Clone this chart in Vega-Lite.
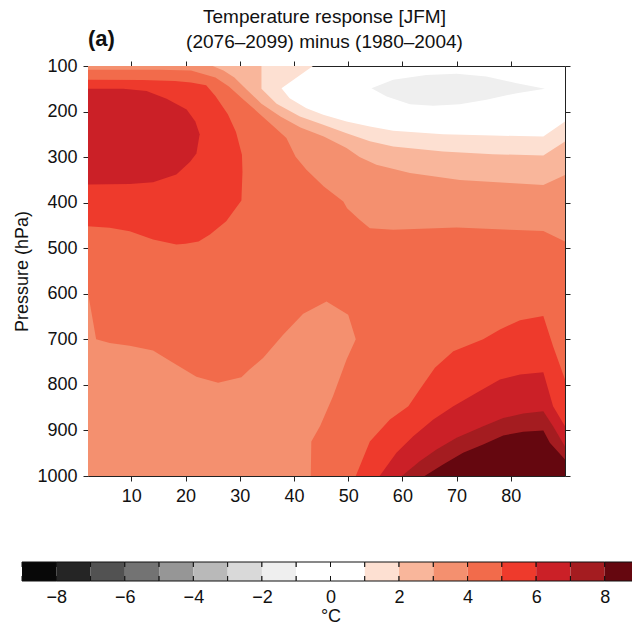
{
  "$schema": "https://vega.github.io/schema/vega-lite/v6.json",
  "padding": {"left": 13, "top": 8, "right": 0, "bottom": 0},
  "title": {"text": ["Temperature response [JFM]", "(2076–2099) minus (1980–2004)"], "anchor": "middle", "fontSize": 19, "fontWeight": "normal", "lineHeight": 25, "offset": -24, "dx": -35},
  "datasets": {
    "bins": [
      {"lvl": -9, "hi": -8}, {"lvl": -8, "hi": -7}, {"lvl": -7, "hi": -6}, {"lvl": -6, "hi": -5},
      {"lvl": -5, "hi": -4}, {"lvl": -4, "hi": -3}, {"lvl": -3, "hi": -2}, {"lvl": -2, "hi": -1},
      {"lvl": -1, "hi": 0}, {"lvl": 0, "hi": 1}, {"lvl": 1, "hi": 2}, {"lvl": 2, "hi": 3},
      {"lvl": 3, "hi": 4}, {"lvl": 4, "hi": 5}, {"lvl": 5, "hi": 6}, {"lvl": 6, "hi": 7},
      {"lvl": 7, "hi": 8}, {"lvl": 8, "hi": 9}
    ],
    "contours": [
      {"poly": "T1", "lvl": 1, "i": 0, "lat": 2, "p": 100},
      {"poly": "T1", "lvl": 1, "i": 1, "lat": 43.5, "p": 100},
      {"poly": "T1", "lvl": 1, "i": 2, "lat": 37.7, "p": 148.7},
      {"poly": "T1", "lvl": 1, "i": 3, "lat": 39.2, "p": 170.6},
      {"poly": "T1", "lvl": 1, "i": 4, "lat": 42.3, "p": 192.6},
      {"poly": "T1", "lvl": 1, "i": 5, "lat": 45.4, "p": 207},
      {"poly": "T1", "lvl": 1, "i": 6, "lat": 49.7, "p": 222},
      {"poly": "T1", "lvl": 1, "i": 7, "lat": 54, "p": 233},
      {"poly": "T1", "lvl": 1, "i": 8, "lat": 58.3, "p": 242},
      {"poly": "T1", "lvl": 1, "i": 9, "lat": 67.5, "p": 250},
      {"poly": "T1", "lvl": 1, "i": 10, "lat": 76.7, "p": 252.6},
      {"poly": "T1", "lvl": 1, "i": 11, "lat": 86, "p": 255},
      {"poly": "T1", "lvl": 1, "i": 12, "lat": 90, "p": 222},
      {"poly": "T1", "lvl": 1, "i": 13, "lat": 90, "p": 1000},
      {"poly": "T1", "lvl": 1, "i": 14, "lat": 2, "p": 1000},

      {"poly": "T2", "lvl": 2, "i": 0, "lat": 2, "p": 100},
      {"poly": "T2", "lvl": 2, "i": 1, "lat": 34, "p": 100},
      {"poly": "T2", "lvl": 2, "i": 2, "lat": 34, "p": 150},
      {"poly": "T2", "lvl": 2, "i": 3, "lat": 36.8, "p": 183},
      {"poly": "T2", "lvl": 2, "i": 4, "lat": 41.1, "p": 211},
      {"poly": "T2", "lvl": 2, "i": 5, "lat": 45.4, "p": 229},
      {"poly": "T2", "lvl": 2, "i": 6, "lat": 49.7, "p": 247.5},
      {"poly": "T2", "lvl": 2, "i": 7, "lat": 54, "p": 265},
      {"poly": "T2", "lvl": 2, "i": 8, "lat": 58.3, "p": 276.7},
      {"poly": "T2", "lvl": 2, "i": 9, "lat": 67.5, "p": 287.7},
      {"poly": "T2", "lvl": 2, "i": 10, "lat": 76.7, "p": 293.6},
      {"poly": "T2", "lvl": 2, "i": 11, "lat": 86, "p": 296.5},
      {"poly": "T2", "lvl": 2, "i": 12, "lat": 90, "p": 265.8},
      {"poly": "T2", "lvl": 2, "i": 13, "lat": 90, "p": 1000},
      {"poly": "T2", "lvl": 2, "i": 14, "lat": 2, "p": 1000},

      {"poly": "T3", "lvl": 3, "i": 0, "lat": 2, "p": 100},
      {"poly": "T3", "lvl": 3, "i": 1, "lat": 25, "p": 100},
      {"poly": "T3", "lvl": 3, "i": 2, "lat": 27, "p": 110},
      {"poly": "T3", "lvl": 3, "i": 3, "lat": 29, "p": 125},
      {"poly": "T3", "lvl": 3, "i": 4, "lat": 31.3, "p": 152},
      {"poly": "T3", "lvl": 3, "i": 5, "lat": 34, "p": 183},
      {"poly": "T3", "lvl": 3, "i": 6, "lat": 37.5, "p": 211},
      {"poly": "T3", "lvl": 3, "i": 7, "lat": 41.2, "p": 235},
      {"poly": "T3", "lvl": 3, "i": 8, "lat": 45.5, "p": 255},
      {"poly": "T3", "lvl": 3, "i": 9, "lat": 49.7, "p": 280},
      {"poly": "T3", "lvl": 3, "i": 10, "lat": 52.1, "p": 300},
      {"poly": "T3", "lvl": 3, "i": 11, "lat": 55.2, "p": 317},
      {"poly": "T3", "lvl": 3, "i": 12, "lat": 61.4, "p": 335},
      {"poly": "T3", "lvl": 3, "i": 13, "lat": 70.6, "p": 350},
      {"poly": "T3", "lvl": 3, "i": 14, "lat": 79.8, "p": 357},
      {"poly": "T3", "lvl": 3, "i": 15, "lat": 86, "p": 361},
      {"poly": "T3", "lvl": 3, "i": 16, "lat": 90, "p": 339},
      {"poly": "T3", "lvl": 3, "i": 17, "lat": 90, "p": 1000},
      {"poly": "T3", "lvl": 3, "i": 18, "lat": 2, "p": 1000},

      {"poly": "T4", "lvl": 4, "i": 0, "lat": 2, "p": 108},
      {"poly": "T4", "lvl": 4, "i": 1, "lat": 15, "p": 108},
      {"poly": "T4", "lvl": 4, "i": 2, "lat": 21, "p": 110},
      {"poly": "T4", "lvl": 4, "i": 3, "lat": 25.5, "p": 125},
      {"poly": "T4", "lvl": 4, "i": 4, "lat": 28, "p": 145},
      {"poly": "T4", "lvl": 4, "i": 5, "lat": 30.5, "p": 172},
      {"poly": "T4", "lvl": 4, "i": 6, "lat": 33, "p": 198},
      {"poly": "T4", "lvl": 4, "i": 7, "lat": 36, "p": 230},
      {"poly": "T4", "lvl": 4, "i": 8, "lat": 38.6, "p": 258},
      {"poly": "T4", "lvl": 4, "i": 9, "lat": 40.3, "p": 299},
      {"poly": "T4", "lvl": 4, "i": 10, "lat": 42.3, "p": 328},
      {"poly": "T4", "lvl": 4, "i": 11, "lat": 45.5, "p": 364.5},
      {"poly": "T4", "lvl": 4, "i": 12, "lat": 49.1, "p": 397.5},
      {"poly": "T4", "lvl": 4, "i": 13, "lat": 49.8, "p": 412},
      {"poly": "T4", "lvl": 4, "i": 14, "lat": 52.1, "p": 437.7},
      {"poly": "T4", "lvl": 4, "i": 15, "lat": 54, "p": 456},
      {"poly": "T4", "lvl": 4, "i": 16, "lat": 58.3, "p": 459.7},
      {"poly": "T4", "lvl": 4, "i": 17, "lat": 70, "p": 454.6},
      {"poly": "T4", "lvl": 4, "i": 18, "lat": 79.8, "p": 459.7},
      {"poly": "T4", "lvl": 4, "i": 19, "lat": 86, "p": 462},
      {"poly": "T4", "lvl": 4, "i": 20, "lat": 90, "p": 485},
      {"poly": "T4", "lvl": 4, "i": 21, "lat": 90, "p": 1000},
      {"poly": "T4", "lvl": 4, "i": 22, "lat": 43.1, "p": 1000},
      {"poly": "T4", "lvl": 4, "i": 23, "lat": 43.2, "p": 924},
      {"poly": "T4", "lvl": 4, "i": 24, "lat": 44.8, "p": 891},
      {"poly": "T4", "lvl": 4, "i": 25, "lat": 47.2, "p": 825},
      {"poly": "T4", "lvl": 4, "i": 26, "lat": 49.7, "p": 744},
      {"poly": "T4", "lvl": 4, "i": 27, "lat": 51.4, "p": 700},
      {"poly": "T4", "lvl": 4, "i": 28, "lat": 50, "p": 646},
      {"poly": "T4", "lvl": 4, "i": 29, "lat": 46, "p": 617},
      {"poly": "T4", "lvl": 4, "i": 30, "lat": 41.7, "p": 644},
      {"poly": "T4", "lvl": 4, "i": 31, "lat": 38, "p": 690},
      {"poly": "T4", "lvl": 4, "i": 32, "lat": 34.3, "p": 741},
      {"poly": "T4", "lvl": 4, "i": 33, "lat": 31.8, "p": 766},
      {"poly": "T4", "lvl": 4, "i": 34, "lat": 30.3, "p": 783},
      {"poly": "T4", "lvl": 4, "i": 35, "lat": 26, "p": 795.5},
      {"poly": "T4", "lvl": 4, "i": 36, "lat": 22, "p": 782},
      {"poly": "T4", "lvl": 4, "i": 37, "lat": 17.7, "p": 751.6},
      {"poly": "T4", "lvl": 4, "i": 38, "lat": 14, "p": 724.6},
      {"poly": "T4", "lvl": 4, "i": 39, "lat": 9.7, "p": 714},
      {"poly": "T4", "lvl": 4, "i": 40, "lat": 6, "p": 708},
      {"poly": "T4", "lvl": 4, "i": 41, "lat": 3.5, "p": 700},
      {"poly": "T4", "lvl": 4, "i": 42, "lat": 2, "p": 598},

      {"poly": "T5a", "lvl": 5, "i": 0, "lat": 2, "p": 130},
      {"poly": "T5a", "lvl": 5, "i": 1, "lat": 12, "p": 131},
      {"poly": "T5a", "lvl": 5, "i": 2, "lat": 18, "p": 133},
      {"poly": "T5a", "lvl": 5, "i": 3, "lat": 21, "p": 136},
      {"poly": "T5a", "lvl": 5, "i": 4, "lat": 23.8, "p": 142},
      {"poly": "T5a", "lvl": 5, "i": 5, "lat": 25.5, "p": 166},
      {"poly": "T5a", "lvl": 5, "i": 6, "lat": 27.8, "p": 206},
      {"poly": "T5a", "lvl": 5, "i": 7, "lat": 29.3, "p": 245},
      {"poly": "T5a", "lvl": 5, "i": 8, "lat": 30.4, "p": 295},
      {"poly": "T5a", "lvl": 5, "i": 9, "lat": 30.5, "p": 332},
      {"poly": "T5a", "lvl": 5, "i": 10, "lat": 30.3, "p": 395},
      {"poly": "T5a", "lvl": 5, "i": 11, "lat": 27.5, "p": 441},
      {"poly": "T5a", "lvl": 5, "i": 12, "lat": 24.5, "p": 470},
      {"poly": "T5a", "lvl": 5, "i": 13, "lat": 22.4, "p": 485},
      {"poly": "T5a", "lvl": 5, "i": 14, "lat": 20, "p": 490},
      {"poly": "T5a", "lvl": 5, "i": 15, "lat": 18.3, "p": 492},
      {"poly": "T5a", "lvl": 5, "i": 16, "lat": 14, "p": 481},
      {"poly": "T5a", "lvl": 5, "i": 17, "lat": 9.7, "p": 463},
      {"poly": "T5a", "lvl": 5, "i": 18, "lat": 6, "p": 455},
      {"poly": "T5a", "lvl": 5, "i": 19, "lat": 2, "p": 452},

      {"poly": "T5b", "lvl": 5, "i": 0, "lat": 51.4, "p": 1000},
      {"poly": "T5b", "lvl": 5, "i": 1, "lat": 54, "p": 924},
      {"poly": "T5b", "lvl": 5, "i": 2, "lat": 57.7, "p": 876},
      {"poly": "T5b", "lvl": 5, "i": 3, "lat": 61.1, "p": 847},
      {"poly": "T5b", "lvl": 5, "i": 4, "lat": 63.2, "p": 810},
      {"poly": "T5b", "lvl": 5, "i": 5, "lat": 66, "p": 762.6},
      {"poly": "T5b", "lvl": 5, "i": 6, "lat": 69.4, "p": 726},
      {"poly": "T5b", "lvl": 5, "i": 7, "lat": 74.9, "p": 700},
      {"poly": "T5b", "lvl": 5, "i": 8, "lat": 78, "p": 678.5},
      {"poly": "T5b", "lvl": 5, "i": 9, "lat": 81.7, "p": 658},
      {"poly": "T5b", "lvl": 5, "i": 10, "lat": 86, "p": 649},
      {"poly": "T5b", "lvl": 5, "i": 11, "lat": 87.8, "p": 715},
      {"poly": "T5b", "lvl": 5, "i": 12, "lat": 90, "p": 788},
      {"poly": "T5b", "lvl": 5, "i": 13, "lat": 90, "p": 1000},

      {"poly": "T6a", "lvl": 6, "i": 0, "lat": 2, "p": 150},
      {"poly": "T6a", "lvl": 6, "i": 1, "lat": 8.5, "p": 150},
      {"poly": "T6a", "lvl": 6, "i": 2, "lat": 12.8, "p": 155},
      {"poly": "T6a", "lvl": 6, "i": 3, "lat": 16.5, "p": 172},
      {"poly": "T6a", "lvl": 6, "i": 4, "lat": 20.2, "p": 195.5},
      {"poly": "T6a", "lvl": 6, "i": 5, "lat": 21.8, "p": 222},
      {"poly": "T6a", "lvl": 6, "i": 6, "lat": 22.6, "p": 250},
      {"poly": "T6a", "lvl": 6, "i": 7, "lat": 22, "p": 292},
      {"poly": "T6a", "lvl": 6, "i": 8, "lat": 20.8, "p": 311},
      {"poly": "T6a", "lvl": 6, "i": 9, "lat": 18.3, "p": 338},
      {"poly": "T6a", "lvl": 6, "i": 10, "lat": 14, "p": 355},
      {"poly": "T6a", "lvl": 6, "i": 11, "lat": 9.7, "p": 359},
      {"poly": "T6a", "lvl": 6, "i": 12, "lat": 2, "p": 360},

      {"poly": "T6b", "lvl": 6, "i": 0, "lat": 55.8, "p": 1000},
      {"poly": "T6b", "lvl": 6, "i": 1, "lat": 58.9, "p": 949},
      {"poly": "T6b", "lvl": 6, "i": 2, "lat": 62, "p": 913},
      {"poly": "T6b", "lvl": 6, "i": 3, "lat": 65.7, "p": 876},
      {"poly": "T6b", "lvl": 6, "i": 4, "lat": 69.4, "p": 847},
      {"poly": "T6b", "lvl": 6, "i": 5, "lat": 73.7, "p": 817.5},
      {"poly": "T6b", "lvl": 6, "i": 6, "lat": 78, "p": 788},
      {"poly": "T6b", "lvl": 6, "i": 7, "lat": 81.7, "p": 777},
      {"poly": "T6b", "lvl": 6, "i": 8, "lat": 86, "p": 772},
      {"poly": "T6b", "lvl": 6, "i": 9, "lat": 87.8, "p": 847},
      {"poly": "T6b", "lvl": 6, "i": 10, "lat": 90, "p": 891},
      {"poly": "T6b", "lvl": 6, "i": 11, "lat": 90, "p": 1000},

      {"poly": "T7", "lvl": 7, "i": 0, "lat": 59.9, "p": 1000},
      {"poly": "T7", "lvl": 7, "i": 1, "lat": 63.2, "p": 967.6},
      {"poly": "T7", "lvl": 7, "i": 2, "lat": 66.3, "p": 942},
      {"poly": "T7", "lvl": 7, "i": 3, "lat": 70, "p": 916},
      {"poly": "T7", "lvl": 7, "i": 4, "lat": 74.9, "p": 891},
      {"poly": "T7", "lvl": 7, "i": 5, "lat": 78.6, "p": 872.5},
      {"poly": "T7", "lvl": 7, "i": 6, "lat": 82.3, "p": 863},
      {"poly": "T7", "lvl": 7, "i": 7, "lat": 86, "p": 858},
      {"poly": "T7", "lvl": 7, "i": 8, "lat": 87.8, "p": 891},
      {"poly": "T7", "lvl": 7, "i": 9, "lat": 90, "p": 935},
      {"poly": "T7", "lvl": 7, "i": 10, "lat": 90, "p": 1000},

      {"poly": "T8", "lvl": 8, "i": 0, "lat": 64.1, "p": 1000},
      {"poly": "T8", "lvl": 8, "i": 1, "lat": 67.5, "p": 975},
      {"poly": "T8", "lvl": 8, "i": 2, "lat": 71.2, "p": 949},
      {"poly": "T8", "lvl": 8, "i": 3, "lat": 74.9, "p": 931},
      {"poly": "T8", "lvl": 8, "i": 4, "lat": 78.6, "p": 911},
      {"poly": "T8", "lvl": 8, "i": 5, "lat": 82.3, "p": 903},
      {"poly": "T8", "lvl": 8, "i": 6, "lat": 86, "p": 900},
      {"poly": "T8", "lvl": 8, "i": 7, "lat": 87.2, "p": 927},
      {"poly": "T8", "lvl": 8, "i": 8, "lat": 90, "p": 964},
      {"poly": "T8", "lvl": 8, "i": 9, "lat": 90, "p": 1000},

      {"poly": "G", "lvl": -2, "i": 0, "lat": 54.3, "p": 148.7},
      {"poly": "G", "lvl": -2, "i": 1, "lat": 58.3, "p": 130},
      {"poly": "G", "lvl": -2, "i": 2, "lat": 64.4, "p": 119.5},
      {"poly": "G", "lvl": -2, "i": 3, "lat": 70, "p": 117},
      {"poly": "G", "lvl": -2, "i": 4, "lat": 75.5, "p": 123},
      {"poly": "G", "lvl": -2, "i": 5, "lat": 81.1, "p": 137.6},
      {"poly": "G", "lvl": -2, "i": 6, "lat": 86.3, "p": 150},
      {"poly": "G", "lvl": -2, "i": 7, "lat": 81.1, "p": 159.6},
      {"poly": "G", "lvl": -2, "i": 8, "lat": 75.5, "p": 174},
      {"poly": "G", "lvl": -2, "i": 9, "lat": 70.6, "p": 184},
      {"poly": "G", "lvl": -2, "i": 10, "lat": 65.7, "p": 187.5},
      {"poly": "G", "lvl": -2, "i": 11, "lat": 61.4, "p": 184},
      {"poly": "G", "lvl": -2, "i": 12, "lat": 57.1, "p": 167}
    ]
  },
  "spacing": 56,
  "vconcat": [
    {
      "width": 477,
      "height": 410,
      "title": {"text": "(a)", "anchor": "start", "frame": "group", "fontSize": 22, "fontWeight": "bold", "offset": 6},
      "data": {"name": "contours"},
      "encoding": {
        "x": {"field": "lat", "type": "quantitative", "scale": {"domain": [2, 90], "nice": false, "zero": false}, "axis": null},
        "y": {"field": "p", "type": "quantitative", "scale": {"domain": [100, 1000], "reverse": true, "nice": false, "zero": false}, "axis": null},
        "order": {"field": "i", "type": "quantitative"},
        "detail": {"field": "poly", "type": "nominal"},
        "color": {
          "field": "lvl", "type": "ordinal", "legend": null,
          "scale": {
            "domain": [-9, -8, -7, -6, -5, -4, -3, -2, -1, 0, 1, 2, 3, 4, 5, 6, 7, 8],
            "range": ["#080808", "#252525", "#525252", "#737373", "#969696", "#b9b9b9", "#d9d9d9", "#efefef", "#ffffff", "#ffffff", "#fde0d2", "#f9b69b", "#f4906f", "#f26b4b", "#ee3a2c", "#cb2027", "#a41c20", "#65070f"]
          }
        }
      },
      "layer": [
        {
          "transform": [{"filter": "datum.lvl == 1"}],
          "mark": {"type": "line", "filled": true, "clip": true},
          "encoding": {
            "x": {"field": "lat", "type": "quantitative", "scale": {"domain": [2, 90], "nice": false, "zero": false},
                  "axis": {"orient": "bottom", "values": [10, 20, 30, 40, 50, 60, 70, 80], "title": null, "tickSize": 5, "labelPadding": 6}},
            "y": {"field": "p", "type": "quantitative", "scale": {"domain": [100, 1000], "reverse": true, "nice": false, "zero": false},
                  "axis": {"orient": "left", "values": [100, 200, 300, 400, 500, 600, 700, 800, 900, 1000], "format": "d", "title": "Pressure (hPa)", "tickSize": 5, "labelPadding": 6, "titlePadding": 5}}
          }
        },
        {"transform": [{"filter": "datum.lvl == 2"}], "mark": {"type": "line", "filled": true, "clip": true}},
        {"transform": [{"filter": "datum.lvl == 3"}], "mark": {"type": "line", "filled": true, "clip": true}},
        {"transform": [{"filter": "datum.lvl == 4"}], "mark": {"type": "line", "filled": true, "clip": true}},
        {"transform": [{"filter": "datum.lvl == 5"}], "mark": {"type": "line", "filled": true, "clip": true}},
        {"transform": [{"filter": "datum.lvl == 6"}], "mark": {"type": "line", "filled": true, "clip": true}},
        {"transform": [{"filter": "datum.lvl == 7"}], "mark": {"type": "line", "filled": true, "clip": true}},
        {"transform": [{"filter": "datum.lvl == 8"}], "mark": {"type": "line", "filled": true, "clip": true}},
        {
          "transform": [{"filter": "datum.lvl == -2"}],
          "mark": {"type": "line", "filled": true, "clip": true},
          "encoding": {
            "x": {"field": "lat", "type": "quantitative", "scale": {"domain": [2, 90], "nice": false, "zero": false},
                  "axis": {"orient": "top", "values": [10, 20, 30, 40, 50, 60, 70, 80], "title": null, "labels": false, "tickSize": 5}},
            "y": {"field": "p", "type": "quantitative", "scale": {"domain": [100, 1000], "reverse": true, "nice": false, "zero": false},
                  "axis": {"orient": "right", "values": [100, 200, 300, 400, 500, 600, 700, 800, 900, 1000], "title": null, "labels": false, "tickSize": 5}}
          }
        }
      ],
      "resolve": {"axis": {"x": "independent", "y": "independent"}}
    },
    {
      "width": 551,
      "height": 19,
      "data": {"name": "bins"},
      "mark": {"type": "rect", "stroke": "#111111", "strokeWidth": 1, "strokeDash": [39.28, 9, 44.28, 9, 5]},
      "encoding": {
        "x": {"field": "lvl", "type": "quantitative", "scale": {"domain": [-9, 9], "range": [-66, 551], "nice": false, "zero": false},
              "axis": {"orient": "bottom", "values": [-8, -6, -4, -2, 0, 2, 4, 6, 8],
                       "labelOverlap": false, "labelFlush": false,
                       "ticks": false, "labelPadding": 7, "domain": false, "title": "°C", "titlePadding": 1}},
        "x2": {"field": "hi"},
        "color": {"field": "lvl", "type": "ordinal", "legend": null}
      }
    }
  ],
  "config": {
    "font": "Liberation Sans",
    "view": {"stroke": null},
    "title": {"color": "#111111"},
    "axis": {
      "grid": false,
      "labelFontSize": 18,
      "labelColor": "#111111",
      "titleFontSize": 18,
      "titleFontWeight": "normal",
      "titleColor": "#111111",
      "domainColor": "#222222",
      "tickColor": "#222222",
      "domainWidth": 1,
      "tickWidth": 1
    }
  }
}
